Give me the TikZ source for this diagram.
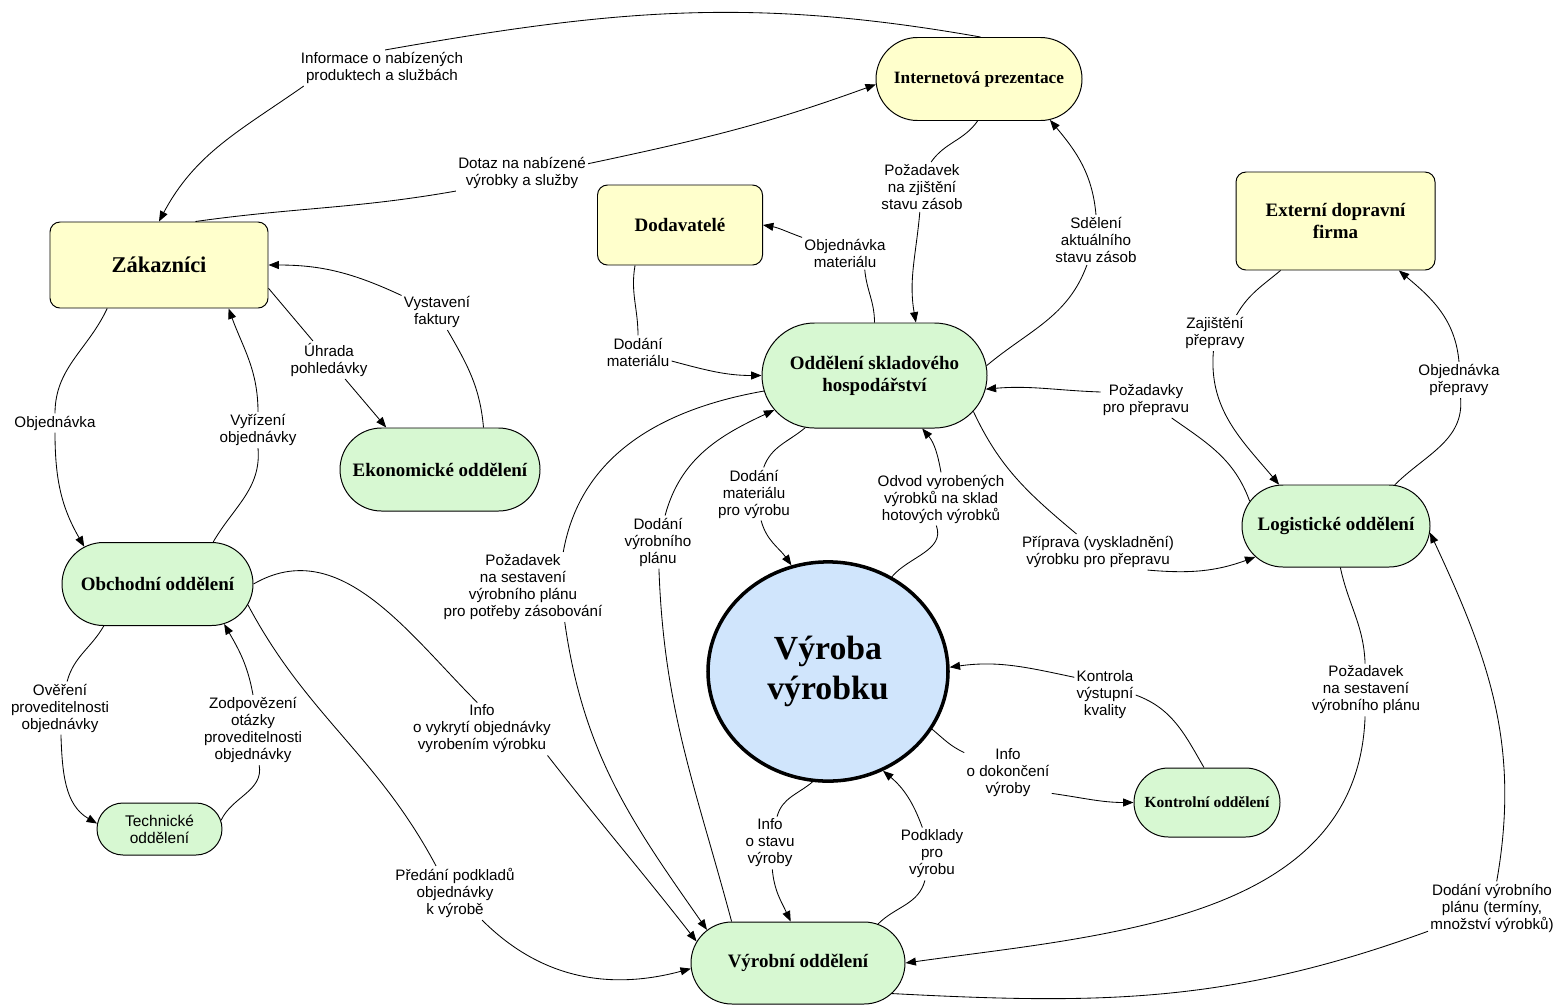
\documentclass[tikz,border=0pt]{standalone}
\usepackage{fontspec}
\setmainfont{Liberation Serif}
\setsansfont{Liberation Sans}
\usepackage{tikz}
\usetikzlibrary{shapes.geometric, shapes.misc, arrows.meta}
\definecolor{entityyellow}{RGB}{255,255,204}
\definecolor{deptgreen}{RGB}{215,248,210}
\definecolor{processblue}{RGB}{208,229,252}

\begin{document}
\begin{tikzpicture}[
    x=0.25mm, y=0.25mm,
    every node/.style={text=black},
    entity/.style={rectangle, rounded corners=2.5mm, draw=black, line width=0.7pt, fill=entityyellow, align=center, font=\bfseries\fontsize{13.5}{15.6}\selectfont},
    dept/.style={rounded rectangle, inner xsep=-10mm, draw=black, line width=0.7pt, fill=deptgreen, align=center, font=\bfseries\fontsize{13.5}{15.6}\selectfont},
    flowlabel/.style={align=center, inner sep=1.5pt, font=\sffamily\fontsize{10.8}{12.1}\selectfont},
    flow/.style={line width=0.6pt},
    arrow/.style={flow, -{Triangle[length=2.6mm, width=2mm]}}
]
\useasboundingbox (0,0) rectangle (1560,-1006);

% External parties
\node[entity, minimum width=54.5mm, minimum height=21.5mm, font=\bfseries\fontsize{16}{18}\selectfont] (zak) at (159,-265) {Zákazníci};
\node[dept, fill=entityyellow, minimum width=31.5mm, minimum height=20.75mm, font=\bfseries\fontsize{12.3}{14}\selectfont] (inet) at (979,-79) {Internetová prezentace};
\node[entity, minimum width=41.25mm, minimum height=20mm] (dod) at (680,-225) {Dodavatelé};
\node[entity, minimum width=49.75mm, minimum height=24.5mm] (ext) at (1335.5,-221) {Externí dopravní\\firma};

% Departments
\node[dept, minimum width=36.25mm, minimum height=26.25mm] (sklad) at (874.5,-375.5) {Oddělení skladového\\hospodářství};
\node[dept, minimum width=30mm, minimum height=20.75mm] (ekon) at (440,-469.5) {Ekonomické oddělení};
\node[dept, minimum width=27.75mm, minimum height=20.75mm] (obch) at (157.5,-584) {Obchodní oddělení};
\node[dept, minimum width=11.25mm, minimum height=13mm, font=\sffamily\fontsize{11}{12.1}\selectfont] (tech) at (159.5,-829) {Technické\\oddělení};
\node[dept, minimum width=27mm, minimum height=20.5mm] (logi) at (1336,-526) {Logistické oddělení};
\node[dept, minimum width=16.5mm, minimum height=17.25mm, font=\bfseries\fontsize{11}{12.5}\selectfont] (kontr) at (1207,-802.5) {Kontrolní oddělení};
\node[dept, minimum width=33.5mm, minimum height=20.5mm] (vyrob) at (798,-963) {Výrobní oddělení};

% Production
\node[ellipse, draw=black, line width=2.5pt, fill=processblue, minimum width=60mm, minimum height=54.8mm, align=center, font=\bfseries\fontsize{24}{28.5}\selectfont] (vyroba) at (828,-671.5) {Výroba\\výrobku};

% Labels
\node[flowlabel] (lInfo) at (382,-68) {Informace o nabízených\\produktech a službách};
\node[flowlabel] (lDotaz) at (522,-173) {Dotaz na nabízené\\výrobky a služby};
\node[flowlabel] (lObj) at (55,-423) {Objednávka};
\node[flowlabel] (lVyriz) at (258,-430) {Vyřízení\\objednávky};
\node[flowlabel] (lUhrada) at (329,-360) {Úhrada\\pohledávky};
\node[flowlabel] (lFaktura) at (437,-312) {Vystavení\\faktury};
\node[flowlabel] (lDodMat) at (638,-352) {Dodání\\materiálu};
\node[flowlabel] (lObjMat) at (845,-253) {Objednávka\\materiálu};
\node[flowlabel] (lZjist) at (922,-187) {Požadavek\\na zjištění\\stavu zásob};
\node[flowlabel] (lSdel) at (1096,-240) {Sdělení\\aktuálního\\stavu zásob};
\node[flowlabel] (lPozPrep) at (1146,-400) {Požadavky\\pro přepravu};
\node[flowlabel] (lPriprava) at (1098,-552) {Příprava (vyskladnění)\\výrobku pro přepravu};
\node[flowlabel] (lZajist) at (1215,-333) {Zajištění\\přepravy};
\node[flowlabel] (lObjPrep) at (1459,-380) {Objednávka\\přepravy};
\node[flowlabel] (lMatVyr) at (754,-494) {Dodání\\materiálu\\pro výrobu};
\node[flowlabel] (lOdvod) at (941,-499) {Odvod vyrobených\\výrobků na sklad\\hotových výrobků};
\node[flowlabel] (lPlanZas) at (523,-587) {Požadavek\\na sestavení\\výrobního plánu\\pro potřeby zásobování};
\node[flowlabel] (lDodPlan) at (658,-542) {Dodání\\výrobního\\plánu};
\node[flowlabel] (lVykryti) at (482,-729) {Info\\o vykrytí objednávky\\vyrobením výrobku};
\node[flowlabel] (lPredani) at (455,-893) {Předání podkladů\\objednávky\\k výrobě};
\node[flowlabel] (lOvereni) at (60,-708) {Ověření\\proveditelnosti\\objednávky};
\node[flowlabel] (lZodp) at (253,-730) {Zodpovězení\\otázky\\proveditelnosti\\objednávky};
\node[flowlabel] (lStav) at (770,-843) {Info\\o stavu\\výroby};
\node[flowlabel] (lPodklady) at (932,-854) {Podklady\\pro\\výrobu};
\node[flowlabel] (lDokonceni) at (1008,-773) {Info\\o dokončení\\výroby};
\node[flowlabel] (lKontrola) at (1105,-695) {Kontrola\\výstupní\\kvality};
\node[flowlabel] (lPlanLog) at (1366,-690) {Požadavek\\na sestavení\\výrobního plánu};
\node[flowlabel] (lPlanTerm) at (1492,-908) {Dodání výrobního\\plánu (termíny,\\množství výrobků)};

% Customers and web
\draw[flow] (inet.88) to[out=170,in=10] (lInfo.80);
\draw[arrow] (lInfo.193) to[out=215,in=62] (zak.north);
\draw[flow] (zak.50) to[out=8,in=190] (lDotaz.south west);
\draw[arrow] (lDotaz.8) to[out=12,in=200] (inet.183);
\draw[flow] (zak.220) to[out=245,in=90] (lObj.north);
\draw[arrow] (lObj.south) to[out=-90,in=120] (obch.153);
\draw[flow] (obch.37) to[out=60,in=-85] (lVyriz.south);
\draw[arrow] (lVyriz.north) to[out=90,in=-70] (zak.-32);
\draw[flow] (zak.-12) -- (lUhrada);
\draw[arrow] (lUhrada) -- (ekon.142);
\draw[flow] (ekon.44) to[out=95,in=-60] (lFaktura);
\draw[arrow] (lFaktura) to[out=155,in=0] (zak.east);

% Store
\draw[flow] (dod.-138) to[out=-100,in=90] (lDodMat.north);
\draw[arrow] (lDodMat.-15) to[out=-15,in=180] (sklad.west);
\draw[flow] (sklad.north) to[out=90,in=-85] (lObjMat.-40);
\draw[arrow] (lObjMat) to[out=160,in=-10] (dod.east);
\draw[flow] (inet.-92) to[out=-125,in=55] (lZjist.70);
\draw[arrow] (lZjist) to[out=-95,in=100] (sklad.52);
\draw[flow] (sklad.5) to[out=40,in=-110] (lSdel);
\draw[arrow] (lSdel.north) to[out=95,in=-50] (inet.-30);
\draw[flow] (logi.164) to[out=110,in=-35] (lPozPrep);
\draw[arrow] (lPozPrep.170) to[out=178,in=5] (sklad.-7);
\draw[flow] (sklad.-20) to[out=-65,in=140] (lPriprava);
\draw[arrow] (lPriprava.-20) to[out=-5,in=200] (logi.201);

% Transport
\draw[flow] (ext.222) to[out=-140,in=60] (lZajist.40);
\draw[arrow] (lZajist) to[out=-95,in=130] (logi.144);
\draw[flow] (logi.35) to[out=45,in=-85] (lObjPrep);
\draw[arrow] (lObjPrep.north) to[out=95,in=-40] (ext.-38);

% Production
\draw[flow] (sklad.217) to[out=-140,in=70] (lMatVyr);
\draw[arrow] (lMatVyr) to[out=-75,in=125] (vyroba.109);
\draw[flow] (vyroba.56) to[out=50,in=-70] (lOdvod.-100);
\draw[arrow] (lOdvod.north) to[out=100,in=-50] (sklad.-48);
\draw[flow] (sklad.188) to[out=190,in=80] (lPlanZas.41);
\draw[arrow] (lPlanZas.-40) to[out=-82,in=125] (vyrob.160);
\draw[flow] (vyrob.148) to[out=105,in=-88] (lDodPlan);
\draw[arrow] (lDodPlan) to[out=75,in=205] (sklad.199);
\draw[flow] (obch.east) to[out=30,in=135] (lVykryti.100);
\draw[arrow] (lVykryti.-22) to[out=-52,in=128] (vyrob.168);
\draw[flow] (obch.-13) to[out=-62,in=118] (lPredani.125);
\draw[arrow] (lPredani.-45) to[out=-45,in=195] (vyrob.183);
\draw[flow] (obch.218) to[out=-120,in=75] (lOvereni);
\draw[arrow] (lOvereni) to[out=-88,in=150] (tech.175);
\draw[flow] (tech.8) to[out=65,in=-80] (lZodp);
\draw[arrow] (lZodp.north) to[out=100,in=-60] (obch.-31);
\draw[flow] (vyroba.-98) to[out=-140,in=75] (lStav);
\draw[arrow] (lStav) to[out=-85,in=115] (vyrob.100);
\draw[flow] (vyrob.26) to[out=45,in=-105] (lPodklady);
\draw[arrow] (lPodklady) to[out=110,in=-40] (vyroba.-61);
\draw[flow] (vyroba.-29) to[out=-40,in=155] (lDokonceni);
\draw[arrow] (lDokonceni.-25) to[out=-8,in=180] (kontr.west);
\draw[flow] (kontr.95) to[out=120,in=-20] (lKontrola.east);
\draw[arrow] (lKontrola.150) to[out=168,in=8] (vyroba.2);
\draw[flow] (logi.-84) to[out=-78,in=92] (lPlanLog);
\draw[arrow] (lPlanLog) to[out=-92,in=8] (vyrob.east);
\draw[flow] (vyrob.-18) to[out=-3,in=200] (lPlanTerm);
\draw[arrow] (lPlanTerm) to[out=80,in=-65] (logi.-4);

\end{tikzpicture}
\end{document}
